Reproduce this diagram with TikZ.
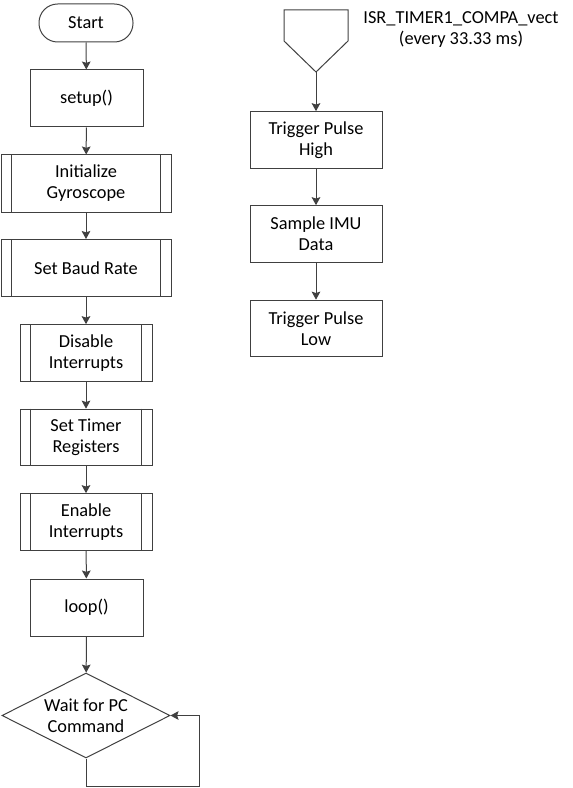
\documentclass[tikz,border=0pt]{standalone}
\usepackage{fontspec}
\setmainfont{Carlito}
\usepackage{tikz}
\usetikzlibrary{arrows.meta,shapes.geometric}
\definecolor{linegray}{RGB}{64,64,64}

\tikzset{
    boxfont/.style={font=\fontsize{13.75}{15.75}\selectfont},
    block/.style={draw=linegray, line width=0.75pt, align=center, inner sep=0pt, boxfont},
    terminal/.style={block, rounded corners=14pt, minimum width=70.5pt, minimum height=28.5pt},
    process/.style={block, minimum width=84.75pt, minimum height=42.75pt},
    widebox/.style={block, minimum width=127.5pt, minimum height=42.75pt},
    narrowbox/.style={block, minimum width=99pt, minimum height=42.5pt},
    decision/.style={block, diamond, aspect=2, minimum width=126pt, minimum height=63.75pt},
    link/.style={draw=linegray, line width=0.75pt, -{Stealth[length=6pt,width=6.5pt,inset=1pt]}}
}

% vertical bars of a predefined process box
\newcommand{\subbars}[1]{%
    \draw [linegray, line width=0.75pt] ([xshift=8.25pt]#1.north west) -- ([xshift=8.25pt]#1.south west);
    \draw [linegray, line width=0.75pt] ([xshift=-8.25pt]#1.north east) -- ([xshift=-8.25pt]#1.south east);
}

\begin{document}
\begin{tikzpicture}[x=0.75pt, y=-0.75pt]
    \useasboundingbox (0, 0) rectangle (573, 788);

    % main program
    \node [terminal] (start) at (86, 23) {Start};
    \node [process] (setup) at (86.5, 98.5) {setup()};
    \node [widebox] (gyro) at (86, 183.5) {Initialize\\Gyroscope};
    \node [widebox] (baud) at (86, 268) {Set Baud Rate};
    \node [narrowbox] (disable) at (86, 353) {Disable\\Interrupts};
    \node [narrowbox] (timer) at (86, 437.5) {Set Timer\\Registers};
    \node [narrowbox] (enable) at (86, 522) {Enable\\Interrupts};
    \node [process] (loop) at (86.5, 607.5) {loop()};
    \node [decision] (wait) at (86, 715.5) {Wait for PC\\Command};
    \coordinate (back) at (199, 786);

    \subbars{gyro}
    \subbars{baud}
    \subbars{disable}
    \subbars{timer}
    \subbars{enable}

    \draw [link] (start) -- (setup);
    \draw [link] (setup) -- (gyro);
    \draw [link] (gyro) -- (baud);
    \draw [link] (baud) -- (disable);
    \draw [link] (disable) -- (timer);
    \draw [link] (timer) -- (enable);
    \draw [link] (enable) -- (loop);
    \draw [link] (loop) -- (wait);
    \draw [link] (wait.south) |- (back) |- (wait.east);

    % interrupt routine
    \coordinate (isrtl) at (284, 10);
    \coordinate (isrtr) at (348, 10);
    \coordinate (isrr) at (348, 41);
    \coordinate (isrtip) at (316, 72);
    \coordinate (isrl) at (284, 41);
    \draw [linegray, line width=0.75pt] (isrtl) -- (isrtr) -- (isrr) -- (isrtip) -- (isrl) -- cycle;
    \node [align=center, boxfont] (isrlabel) at (461, 30)
        {ISR\_TIMER1\_COMPA\_vect\\(every 33.33 ms)};

    \node [narrowbox] (pulsehigh) at (316, 140) {Trigger Pulse\\High};
    \node [narrowbox] (sample) at (316, 234) {Sample IMU\\Data};
    \node [narrowbox] (pulselow) at (316, 328.5) {Trigger Pulse\\Low};

    \draw [link] (isrtip) -- (pulsehigh);
    \draw [link] (pulsehigh) -- (sample);
    \draw [link] (sample) -- (pulselow);
\end{tikzpicture}
\end{document}
